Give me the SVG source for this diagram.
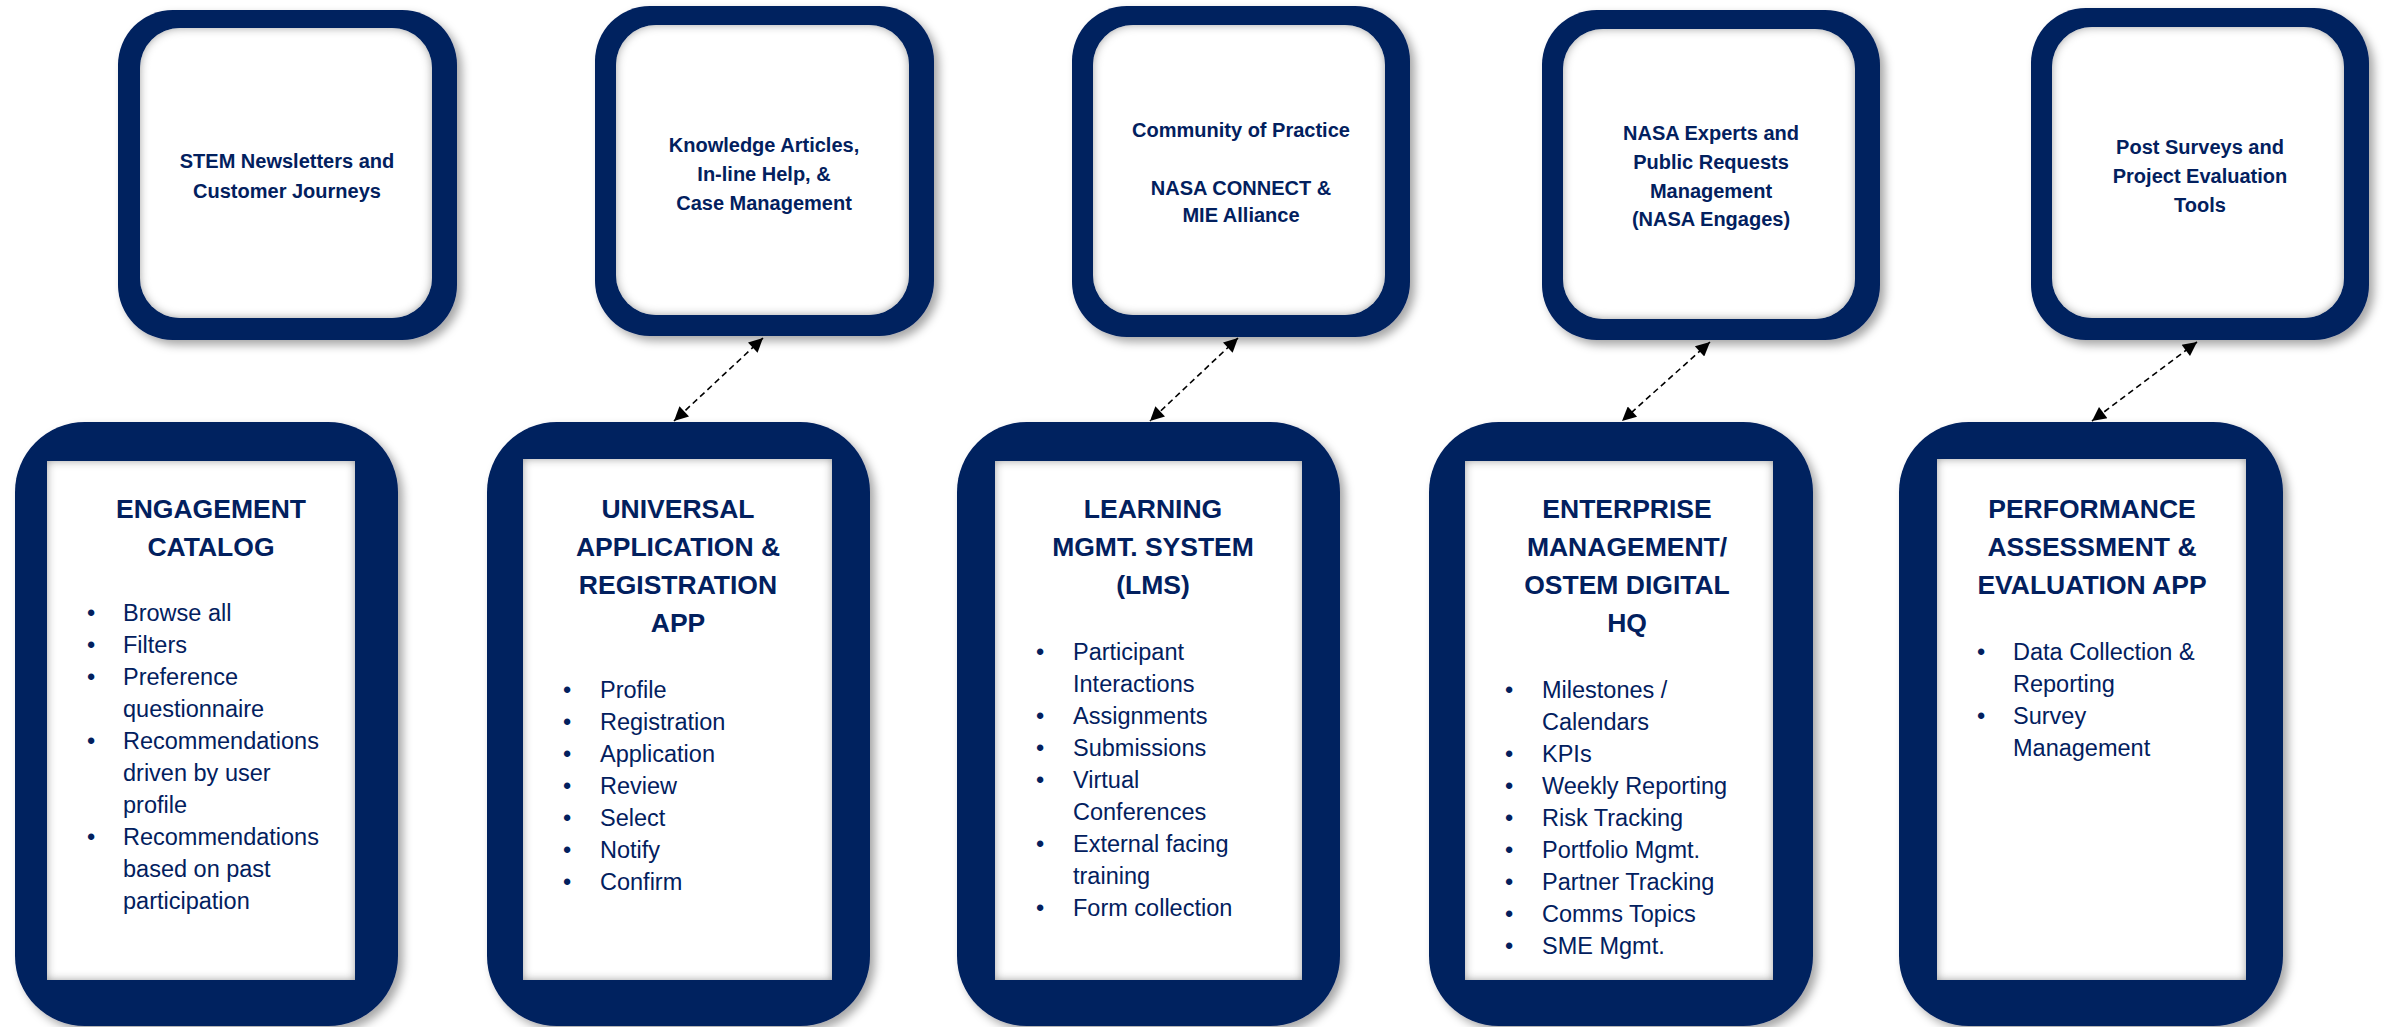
<svg xmlns="http://www.w3.org/2000/svg" width="2384" height="1027" viewBox="0 0 2384 1027">
<defs>
<style>
.outer{fill:#02205e;filter:url(#shadow)}
.inner{fill:#ffffff;filter:url(#inset)}
.ttl{font-family:"Liberation Sans",Arial,sans-serif;font-weight:bold;font-size:26.5px;fill:#02205e;text-anchor:middle}
.top{font-family:"Liberation Sans",Arial,sans-serif;font-weight:bold;font-size:20px;fill:#02205e;text-anchor:middle}
.li{font-family:"Liberation Sans",Arial,sans-serif;font-size:23.5px;fill:#02205e}
.conn{stroke:#000;stroke-width:1.6;stroke-dasharray:6 4;fill:none;marker-start:url(#ah);marker-end:url(#ah)}
</style>
<filter id="shadow" x="-10%" y="-10%" width="125%" height="125%">
<feDropShadow dx="5" dy="5" stdDeviation="5" flood-color="#000" flood-opacity="0.35"/>
</filter>
<filter id="inset" x="-5%" y="-5%" width="110%" height="110%">
<feFlood flood-color="#8c8c8c" result="f"/>
<feComposite in="f" in2="SourceAlpha" operator="out" result="o"/>
<feGaussianBlur in="o" stdDeviation="5" result="b"/>
<feComposite in="b" in2="SourceAlpha" operator="in" result="s"/>
<feMerge><feMergeNode in="SourceGraphic"/><feMergeNode in="s"/></feMerge>
</filter>
<marker id="ah" viewBox="0 0 10 10" refX="10" refY="5" markerWidth="17" markerHeight="14" markerUnits="userSpaceOnUse" orient="auto-start-reverse">
<path d="M0,0 L10,5 L0,10 z" fill="#000"/>
</marker>
</defs>
<rect width="2384" height="1027" fill="#ffffff"/>

<g id="top-stem">
<rect class="outer" x="118" y="10" width="339" height="330" rx="55"/>
<rect class="inner" x="140" y="28" width="292" height="290" rx="40"/>
<text class="top" x="287" y="168">STEM Newsletters and</text>
<text class="top" x="287" y="198">Customer Journeys</text>
</g>
<g id="top-knowledge">
<rect class="outer" x="595" y="6" width="339" height="330" rx="55"/>
<rect class="inner" x="616" y="25" width="293" height="290" rx="40"/>
<text class="top" x="764" y="152">Knowledge Articles,</text>
<text class="top" x="764" y="181">In-line Help, &amp;</text>
<text class="top" x="764" y="210">Case Management</text>
</g>
<g id="top-community">
<rect class="outer" x="1072" y="6" width="338" height="331" rx="55"/>
<rect class="inner" x="1093" y="25" width="292" height="290" rx="40"/>
<text class="top" x="1241" y="137">Community of Practice</text>
<text class="top" x="1241" y="195">NASA CONNECT &amp;</text>
<text class="top" x="1241" y="222">MIE Alliance</text>
</g>
<g id="top-experts">
<rect class="outer" x="1542" y="10" width="338" height="330" rx="55"/>
<rect class="inner" x="1563" y="29" width="292" height="290" rx="40"/>
<text class="top" x="1711" y="140">NASA Experts and</text>
<text class="top" x="1711" y="169">Public Requests</text>
<text class="top" x="1711" y="198">Management</text>
<text class="top" x="1711" y="226">(NASA Engages)</text>
</g>
<g id="top-surveys">
<rect class="outer" x="2031" y="8" width="338" height="332" rx="55"/>
<rect class="inner" x="2052" y="27" width="292" height="291" rx="40"/>
<text class="top" x="2200" y="154">Post Surveys and</text>
<text class="top" x="2200" y="183">Project Evaluation</text>
<text class="top" x="2200" y="212">Tools</text>
</g>

<g id="engagement-catalog">
<rect class="outer" x="15" y="422" width="383" height="604" rx="70"/>
<rect class="inner" x="47" y="461" width="308" height="519"/>
<text class="ttl" x="211" y="518">ENGAGEMENT</text>
<text class="ttl" x="211" y="556">CATALOG</text>
<text class="li" x="87" y="621">•</text><text class="li" x="123" y="621">Browse all</text>
<text class="li" x="87" y="653">•</text><text class="li" x="123" y="653">Filters</text>
<text class="li" x="87" y="685">•</text><text class="li" x="123" y="685">Preference</text>
<text class="li" x="123" y="717">questionnaire</text>
<text class="li" x="87" y="749">•</text><text class="li" x="123" y="749">Recommendations</text>
<text class="li" x="123" y="781">driven by user</text>
<text class="li" x="123" y="813">profile</text>
<text class="li" x="87" y="845">•</text><text class="li" x="123" y="845">Recommendations</text>
<text class="li" x="123" y="877">based on past</text>
<text class="li" x="123" y="909">participation</text>
</g>

<g id="universal-application">
<rect class="outer" x="487" y="422" width="383" height="604" rx="70"/>
<rect class="inner" x="523" y="459" width="309" height="521"/>
<text class="ttl" x="678" y="518">UNIVERSAL</text>
<text class="ttl" x="678" y="556">APPLICATION &amp;</text>
<text class="ttl" x="678" y="594">REGISTRATION</text>
<text class="ttl" x="678" y="632">APP</text>
<text class="li" x="563" y="698">•</text><text class="li" x="600" y="698">Profile</text>
<text class="li" x="563" y="730">•</text><text class="li" x="600" y="730">Registration</text>
<text class="li" x="563" y="762">•</text><text class="li" x="600" y="762">Application</text>
<text class="li" x="563" y="794">•</text><text class="li" x="600" y="794">Review</text>
<text class="li" x="563" y="826">•</text><text class="li" x="600" y="826">Select</text>
<text class="li" x="563" y="858">•</text><text class="li" x="600" y="858">Notify</text>
<text class="li" x="563" y="890">•</text><text class="li" x="600" y="890">Confirm</text>
</g>

<g id="lms">
<rect class="outer" x="957" y="422" width="383" height="604" rx="70"/>
<rect class="inner" x="995" y="461" width="307" height="519"/>
<text class="ttl" x="1153" y="518">LEARNING</text>
<text class="ttl" x="1153" y="556">MGMT. SYSTEM</text>
<text class="ttl" x="1153" y="594">(LMS)</text>
<text class="li" x="1036" y="660">•</text><text class="li" x="1073" y="660">Participant</text>
<text class="li" x="1073" y="692">Interactions</text>
<text class="li" x="1036" y="724">•</text><text class="li" x="1073" y="724">Assignments</text>
<text class="li" x="1036" y="756">•</text><text class="li" x="1073" y="756">Submissions</text>
<text class="li" x="1036" y="788">•</text><text class="li" x="1073" y="788">Virtual</text>
<text class="li" x="1073" y="820">Conferences</text>
<text class="li" x="1036" y="852">•</text><text class="li" x="1073" y="852">External facing</text>
<text class="li" x="1073" y="884">training</text>
<text class="li" x="1036" y="916">•</text><text class="li" x="1073" y="916">Form collection</text>
</g>

<g id="enterprise-management">
<rect class="outer" x="1429" y="422" width="384" height="604" rx="70"/>
<rect class="inner" x="1465" y="461" width="308" height="519"/>
<text class="ttl" x="1627" y="518">ENTERPRISE</text>
<text class="ttl" x="1627" y="556">MANAGEMENT/</text>
<text class="ttl" x="1627" y="594">OSTEM DIGITAL</text>
<text class="ttl" x="1627" y="632">HQ</text>
<text class="li" x="1505" y="698">•</text><text class="li" x="1542" y="698">Milestones /</text>
<text class="li" x="1542" y="730">Calendars</text>
<text class="li" x="1505" y="762">•</text><text class="li" x="1542" y="762">KPIs</text>
<text class="li" x="1505" y="794">•</text><text class="li" x="1542" y="794">Weekly Reporting</text>
<text class="li" x="1505" y="826">•</text><text class="li" x="1542" y="826">Risk Tracking</text>
<text class="li" x="1505" y="858">•</text><text class="li" x="1542" y="858">Portfolio Mgmt.</text>
<text class="li" x="1505" y="890">•</text><text class="li" x="1542" y="890">Partner Tracking</text>
<text class="li" x="1505" y="922">•</text><text class="li" x="1542" y="922">Comms Topics</text>
<text class="li" x="1505" y="954">•</text><text class="li" x="1542" y="954">SME Mgmt.</text>
</g>

<g id="performance-assessment">
<rect class="outer" x="1899" y="422" width="384" height="604" rx="70"/>
<rect class="inner" x="1937" y="459" width="309" height="521"/>
<text class="ttl" x="2092" y="518">PERFORMANCE</text>
<text class="ttl" x="2092" y="556">ASSESSMENT &amp;</text>
<text class="ttl" x="2092" y="594">EVALUATION APP</text>
<text class="li" x="1977" y="660">•</text><text class="li" x="2013" y="660">Data Collection &amp;</text>
<text class="li" x="2013" y="692">Reporting</text>
<text class="li" x="1977" y="724">•</text><text class="li" x="2013" y="724">Survey</text>
<text class="li" x="2013" y="756">Management</text>
</g>

<g id="connectors">
<line class="conn" x1="763" y1="338" x2="674" y2="421"/>
<line class="conn" x1="1238" y1="338" x2="1150" y2="421"/>
<line class="conn" x1="1710" y1="342" x2="1622" y2="421"/>
<line class="conn" x1="2197" y1="342" x2="2092" y2="421"/>
</g>
</svg>
